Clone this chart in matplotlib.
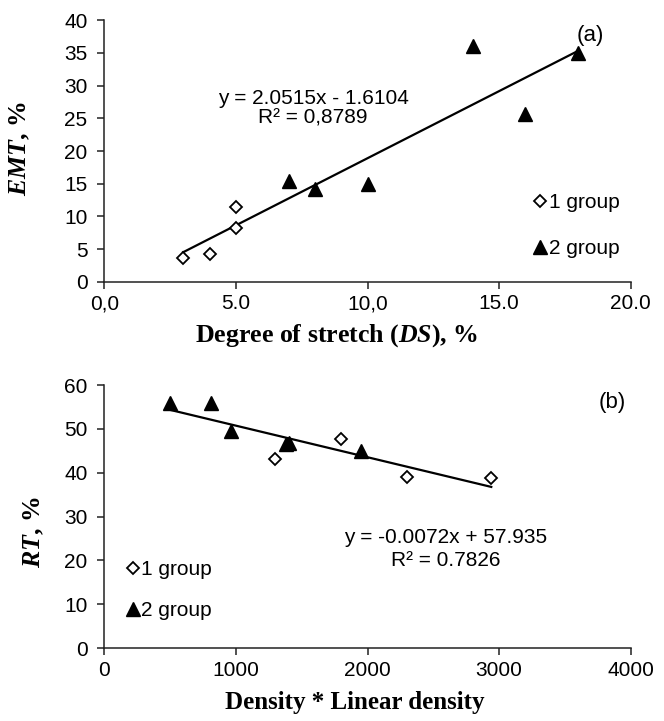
import matplotlib
matplotlib.use("Agg")
import matplotlib.pyplot as plt
import numpy as np
from matplotlib.lines import Line2D

plt.rcParams["mathtext.fontset"] = "custom"
plt.rcParams["mathtext.rm"] = "Liberation Serif:bold"
plt.rcParams["mathtext.it"] = "Liberation Serif:italic:bold"
plt.rcParams["mathtext.bf"] = "Liberation Serif:bold"
plt.rcParams["mathtext.bfit"] = "Liberation Serif:italic:bold"

# ---- data (a) ----
ds_g1 = [3, 4, 5, 5]
emt_g1 = [3.6, 4.3, 8.3, 11.4]
ds_g2 = [7, 8, 10, 14, 16, 18]
emt_g2 = [15.4, 14.2, 15.0, 36.0, 25.6, 35.0]
fit_a = (2.0515, -1.6104)
xticks_a = [0, 5, 10, 15, 20]
xticklabels_a = ["0,0", "5.0", "10,0", "15.0", "20.0"]
yticks_a = [0, 5, 10, 15, 20, 25, 30, 35, 40]

# ---- data (b) ----
dl_g1 = [1300, 1800, 2300, 2940]
rt_g1 = [43.2, 47.6, 39.0, 38.7]
dl_g2 = [500, 810, 960, 1380, 1400, 1950]
rt_g2 = [56.0, 56.0, 49.6, 46.5, 46.8, 45.0]
fit_b = (-0.0072, 57.935)
xticks_b = [0, 1000, 2000, 3000, 4000]
yticks_b = [0, 10, 20, 30, 40, 50, 60]

sans = "Liberation Sans"
serif = "Liberation Serif"
TS = 15     # tick size
AS = 18.6   # axis label size
NS = 15     # annotation size

fig = plt.figure(figsize=(6.64, 7.21), dpi=100)
ax1 = fig.add_axes([0.157, 0.609, 0.793, 0.363])
ax2 = fig.add_axes([0.157, 0.101, 0.793, 0.365])

def style(ax):
    for s in ["top", "right"]:
        ax.spines[s].set_visible(False)
    for s in ["left", "bottom"]:
        ax.spines[s].set_linewidth(1.1)
        ax.spines[s].set_color("#222222")
    ax.tick_params(direction="out", length=5, width=1.1, color="#222222",
                   labelsize=TS)
    ax.tick_params(axis="y", pad=7)
    ax.tick_params(axis="x", pad=4)
    for lab in ax.get_xticklabels() + ax.get_yticklabels():
        lab.set_fontfamily(sans)

dia_kw = dict(marker="D", markersize=6.5, markerfacecolor="white",
              markeredgecolor="black", markeredgewidth=1.3, linestyle="none")
tri_kw = dict(marker="^", markersize=9.5, markerfacecolor="black",
              markeredgecolor="black", linestyle="none")
leg_kw = dict(frameon=False, handlelength=0.5, handletextpad=0.15,
              borderaxespad=0, borderpad=0, prop=dict(family=sans, size=NS))

# ---- panel (a) ----
xa = np.array([min(ds_g1 + ds_g2), max(ds_g1 + ds_g2)])
ax1.plot(xa, fit_a[0] * xa + fit_a[1], color="black", lw=1.6, zorder=2)
ax1.plot(ds_g1, emt_g1, zorder=3, **dia_kw)
ax1.plot(ds_g2, emt_g2, zorder=3, **tri_kw)
ax1.set_xlim(0, 20)
ax1.set_ylim(0, 40)
ax1.set_xticks(xticks_a)
ax1.set_xticklabels(xticklabels_a)
ax1.set_yticks(yticks_a)
style(ax1)
ax1.set_xlabel(r"Degree of stretch ($\mathit{DS}$), %", fontsize=AS,
               fontfamily=serif, fontweight="bold", labelpad=6)
ax1.xaxis.label.set_x(0.442)
ax1.set_ylabel(r"$\mathit{EMT}$, %", fontsize=AS, fontfamily=serif,
               fontweight="bold")
ax1.yaxis.set_label_coords(-0.137, 0.508)
ax1.text(7.93, 28.1, "y = 2.0515x - 1.6104", fontsize=NS, fontfamily=sans,
         ha="center", va="center")
ax1.text(7.93, 25.0, "R\u00b2 = 0,8789", fontsize=NS, fontfamily=sans,
         ha="center", va="center")
ax1.text(18.45, 37.7, "(a)", fontsize=NS + 1, fontfamily=sans, ha="center", va="center")
h1 = [Line2D([], [], **dia_kw), Line2D([], [], **tri_kw)]
ax1.legend(h1, ["1 group", "2 group"], loc="center left",
           bbox_to_anchor=(0.818, 0.215), labelspacing=1.29, **leg_kw)

# ---- panel (b) ----
xb = np.array([min(dl_g1 + dl_g2), max(dl_g1 + dl_g2)])
ax2.plot(xb, fit_b[0] * xb + fit_b[1], color="black", lw=1.6, zorder=2)
ax2.plot(dl_g1, rt_g1, zorder=3, **dia_kw)
ax2.plot(dl_g2, rt_g2, zorder=3, **tri_kw)
ax2.set_xlim(0, 4000)
ax2.set_ylim(0, 60)
ax2.set_xticks(xticks_b)
ax2.set_yticks(yticks_b)
style(ax2)
ax2.set_xlabel("Density * Linear density", fontsize=AS - 0.6, fontfamily=serif,
               fontweight="bold", labelpad=8)
ax2.xaxis.label.set_x(0.476)
ax2.set_ylabel(r"$\mathit{RT}$, %", fontsize=AS, fontfamily=serif,
               fontweight="bold")
ax2.yaxis.set_label_coords(-0.110, 0.44)
ax2.text(2596, 25.3, "y = -0.0072x + 57.935", fontsize=NS, fontfamily=sans,
         ha="center", va="center")
ax2.text(2596, 20.1, "R\u00b2 = 0.7826", fontsize=NS, fontfamily=sans,
         ha="center", va="center")
ax2.text(3856, 56.1, "(b)", fontsize=NS + 1, fontfamily=sans, ha="center", va="center")
h2 = [Line2D([], [], **dia_kw), Line2D([], [], **tri_kw)]
ax2.legend(h2, ["1 group", "2 group"], loc="center left",
           bbox_to_anchor=(0.045, 0.22), labelspacing=1.04, **leg_kw)

fig.savefig("out.png", dpi=100)
